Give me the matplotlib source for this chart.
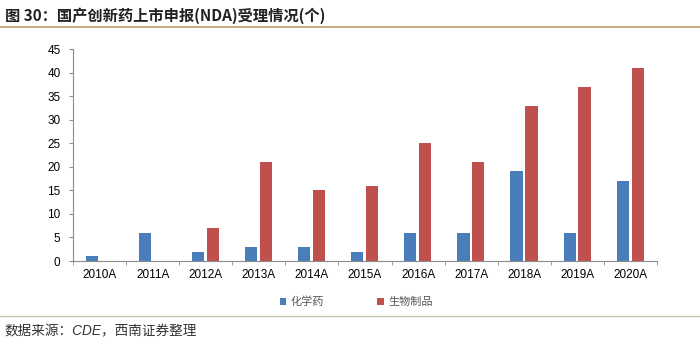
import numpy as np
import matplotlib.pyplot as plt
from matplotlib.lines import Line2D

plt.rcParams['font.family'] = ['Noto Sans CJK SC', 'DejaVu Sans']

years = ['2010A', '2011A', '2012A', '2013A', '2014A', '2015A',
         '2016A', '2017A', '2018A', '2019A', '2020A']
chem = [1, 6, 2, 3, 3, 2, 6, 6, 19, 6, 17]
bio = [0, 0, 7, 21, 15, 16, 25, 21, 33, 37, 41]
labels = ['化学药', '生物制品']

blue = '#4a7ebb'
red = '#c0504d'
axis_c = '#8c8c8c'

fig = plt.figure(figsize=(7, 3.47), dpi=100)
ax = fig.add_axes([73 / 700, 1 - 261 / 347, 584 / 700, 212 / 347])

x = np.arange(len(years))
w = 0.23
ax.bar(x - 0.145, chem, w, color=blue, label=labels[0])
ax.bar(x + 0.135, bio, w, color=red, label=labels[1])

ax.set_xlim(-0.5, len(years) - 0.5)
ax.set_ylim(0, 45)
ax.set_yticks(range(0, 46, 5))
ax.set_xticks(x)
ax.set_xticklabels(years, fontsize=8.5, family=['Liberation Sans'])
ax.set_xticks(np.arange(-0.5, len(years), 1), minor=True)
ax.tick_params(axis='x', which='major', length=0, pad=6)
ax.tick_params(axis='x', which='minor', length=3, color=axis_c, direction='out')
ax.tick_params(axis='y', length=3, color=axis_c, labelsize=8.5, pad=6)
for t in ax.get_yticklabels():
    t.set_family(['Liberation Sans'])

for s in ['top', 'right']:
    ax.spines[s].set_visible(False)
for s in ['left', 'bottom']:
    ax.spines[s].set_color(axis_c)
    ax.spines[s].set_linewidth(0.8)

ax.legend(loc='upper center', bbox_to_anchor=(0.485, -0.12), ncol=2,
          frameon=False, fontsize=8, handlelength=0.6, handleheight=0.6,
          handletextpad=0.4, columnspacing=4.8, labelcolor='#555555')

# title and source lines
fig.text(0.007, 1 - 16 / 347, '图 30：国产创新药上市申报(NDA)受理情况(个)',
         fontsize=11, fontweight='bold', va='center', ha='left', color='#222222')
fig.add_artist(Line2D([0.0, 1.0], [1 - 27 / 347] * 2, color='#c5a46e', lw=1.3))
fig.add_artist(Line2D([0.0, 1.0], [1 - 316 / 347] * 2, color='#c8c2aa', lw=1.0))
fig.text(0.007, 1 - 331 / 347, '数据来源：CDE，西南证券整理',
         fontsize=9.8, style='italic', va='center', ha='left', color='#333333',
         family=['Liberation Sans', 'Noto Sans CJK SC'])

fig.savefig('out.png', dpi=100, facecolor='white')
